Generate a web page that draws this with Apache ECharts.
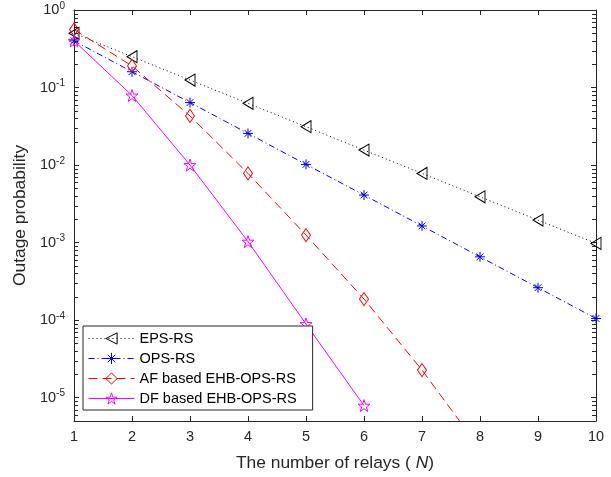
<!DOCTYPE html>
<html>
<head>
<meta charset="utf-8">
<script src="https://cdn.jsdelivr.net/npm/echarts@6/dist/echarts.min.js"></script>
<style>
  html, body { margin: 0; padding: 0; background: #fff; }
  #chart { width: 611px; height: 477px; }
</style>
</head>
<body>
<div id="chart"></div>
<script>
// Number of relays N
const relays = [1, 2, 3, 4, 5, 6, 7, 8, 9, 10];

// Outage probability per scheme
const epsRs = [0.5, 0.25, 0.125, 0.0625, 0.03125, 0.0156, 0.0078, 0.0039, 0.00195, 0.000977];
const opsRs = [0.4, 0.16, 0.064, 0.0256, 0.0102, 0.0041, 0.00164, 0.000655, 0.000262, 0.000105];
const afEhbOpsRs = [0.56, 0.19, 0.043, 0.0078, 0.00125, 0.000187, 0.0000227, 0.0000022];
const dfEhbOpsRs = [0.4, 0.079, 0.01, 0.00103, 0.000089, 0.0000079];

// Axis settings
const xTicks = [1, 2, 3, 4, 5, 6, 7, 8, 9, 10];
const yMin = 5e-6;
const yMax = 1;

const seriesNames = ['EPS-RS', 'OPS-RS', 'AF based EHB-OPS-RS', 'DF based EHB-OPS-RS'];
const seriesColors = ['#000000', '#0000ff', '#ff0000', '#ff00ff'];
const seriesDashes = [[1, 3], [6, 3, 1, 3], [9, 5], 'solid'];

const axisColor = '#262626';
const fontFamily = '"Liberation Sans", Arial, Helvetica, sans-serif';

const pairs = (ys) => ys.map((y, i) => [relays[i], y]);

const asteriskPath = 'path://M0,5L10,5M5,0L5,10M1.6,1.6L8.4,8.4M1.6,8.4L8.4,1.6';
const starPath = 'path://M5,0L6.18,3.45L9.76,3.45L6.9,5.59L7.94,9.05L5,6.91L2.06,9.05L3.1,5.59L0.24,3.45L3.82,3.45Z';
const leftTriPath = 'path://M0,5L9,0L9,10Z';
const diamondPath = 'path://M4,0L8,6L4,12L0,6Z';
const seriesSymbols = [leftTriPath, asteriskPath, diamondPath, starPath];
const seriesSymbolSizes = [[10, 12], 10, [9, 13], 12];

function lineSeries(i, data) {
  const color = seriesColors[i];
  return {
    name: seriesNames[i],
    type: 'line',
    color: color,
    data: pairs(data),
    clip: true,
    symbol: seriesSymbols[i],
    symbolSize: seriesSymbolSizes[i],
    showAllSymbol: true,
    lineStyle: { color: color, width: 1, type: seriesDashes[i] },
    itemStyle: { color: 'rgba(0,0,0,0)', borderColor: color, borderWidth: 1 },
    emphasis: { disabled: true },
    animation: false,
    z: 3
  };
}

const legendData = seriesNames.map((name, i) => ({
  name: name,
  itemStyle: { color: 'rgba(0,0,0,0)', borderColor: seriesColors[i], borderWidth: 1 },
  lineStyle: { color: seriesColors[i], width: 1, type: seriesDashes[i] }
}));

const yLabelFormatter = (v) => {
  const e = Math.round(Math.log10(v));
  return '{b|10}{s|' + e + '}';
};

const frameLine = { show: true, lineStyle: { color: axisColor, width: 1 } };
const frameTick = { inside: true, length: 5, lineStyle: { color: axisColor } };

const chart = echarts.init(document.getElementById('chart'), null, { renderer: 'canvas' });

chart.setOption({
  animation: false,
  backgroundColor: '#fff',
  textStyle: { fontFamily: fontFamily },
  grid: { left: 74, right: 15, top: 10, bottom: 55, containLabel: false },
  legend: {
    data: legendData,
    orient: 'vertical',
    left: 83,
    top: 326,
    itemWidth: 46,
    itemHeight: 14,
    itemGap: 5,
    padding: [5, 16, 4, 5],
    backgroundColor: '#fff',
    borderColor: axisColor,
    borderWidth: 1,
    lineStyle: { width: 1 },
    textStyle: { fontSize: 14.5, color: '#000', fontFamily: fontFamily },
    selectedMode: false
  },
  xAxis: [
    {
      type: 'value',
      min: 1,
      max: 10,
      interval: 1,
      name: '{a|The number of relays ( }{i|N}{a|)}',
      nameLocation: 'middle',
      nameGap: 34,
      nameTextStyle: {
        rich: {
          a: { fontSize: 17.4, color: axisColor, fontFamily: fontFamily },
          i: { fontSize: 17.4, color: axisColor, fontStyle: 'italic', fontFamily: fontFamily }
        }
      },
      axisLine: frameLine,
      axisTick: frameTick,
      axisLabel: { color: axisColor, fontSize: 14.5, margin: 8, fontFamily: fontFamily },
      splitLine: { show: false }
    },
    {
      type: 'value',
      position: 'top',
      min: 1,
      max: 10,
      interval: 1,
      axisLine: frameLine,
      axisTick: frameTick,
      axisLabel: { show: false },
      splitLine: { show: false }
    }
  ],
  yAxis: [
    {
      type: 'log',
      logBase: 10,
      min: yMin,
      max: yMax,
      name: 'Outage probability',
      nameLocation: 'middle',
      nameGap: 45,
      nameTextStyle: { fontSize: 17.4, color: axisColor, fontFamily: fontFamily },
      axisLine: frameLine,
      axisTick: frameTick,
      axisLabel: {
        showMinLabel: false,
        margin: 9,
        formatter: yLabelFormatter,
        rich: {
          b: { fontSize: 14.5, color: axisColor, fontFamily: fontFamily },
          s: { fontSize: 10, color: axisColor, fontFamily: fontFamily, padding: [0, 0, 8, 0] }
        }
      },
      splitLine: { show: false }
    },
    {
      type: 'log',
      logBase: 10,
      min: yMin,
      max: yMax,
      position: 'right',
      axisLine: frameLine,
      axisTick: frameTick,
      axisLabel: { show: false },
      splitLine: { show: false }
    }
  ],
  series: [
    lineSeries(0, epsRs),
    lineSeries(1, opsRs),
    lineSeries(2, afEhbOpsRs),
    lineSeries(3, dfEhbOpsRs)
  ]
});

// Minor log ticks (2..9 x 10^k), pointing inward from the left and right
// frame edges, positioned through the y-axis scale
const minorLines = [];
for (let k = -6; k <= 0; k++) {
  for (let m = 2; m <= 9; m++) {
    const v = m * Math.pow(10, k);
    if (v <= yMin || v >= yMax) continue;
    const l = chart.convertToPixel({ xAxisIndex: 0, yAxisIndex: 0 }, [xTicks[0], v]);
    const r = chart.convertToPixel({ xAxisIndex: 0, yAxisIndex: 0 }, [xTicks[xTicks.length - 1], v]);
    const y = Math.round(l[1]) + 0.5;
    const xl = Math.round(l[0]);
    const xr = Math.round(r[0]);
    minorLines.push(
      { type: 'line', z: 50, silent: true, shape: { x1: xl, y1: y, x2: xl + 4, y2: y }, style: { stroke: axisColor, lineWidth: 1 } },
      { type: 'line', z: 50, silent: true, shape: { x1: xr - 4, y1: y, x2: xr, y2: y }, style: { stroke: axisColor, lineWidth: 1 } }
    );
  }
}
chart.setOption({ graphic: { elements: minorLines } });
</script>
</body>
</html>
